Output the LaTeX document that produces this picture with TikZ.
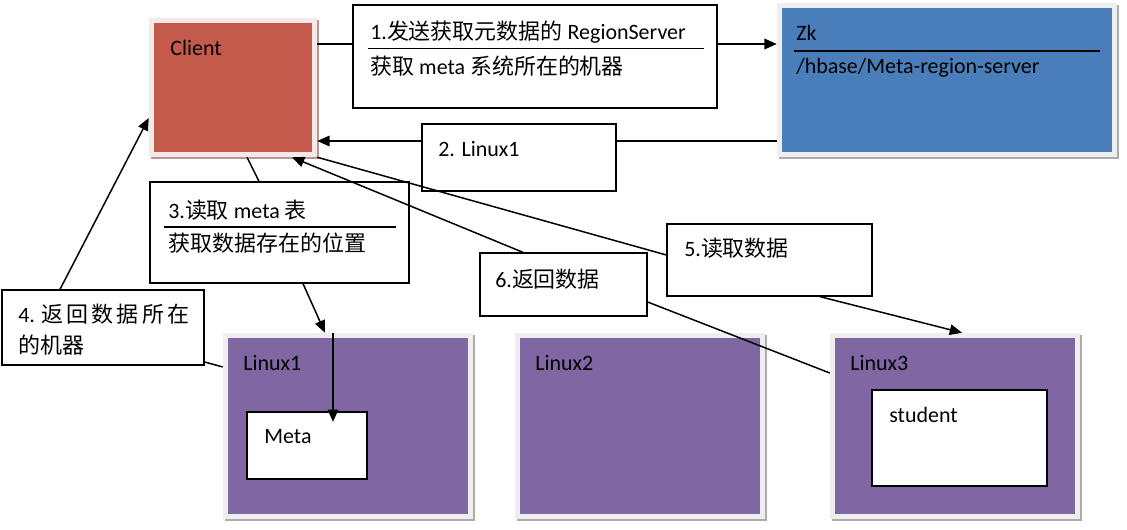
\documentclass[tikz,border=0pt]{standalone}
\usepackage{fontspec}
\setmainfont{Carlito}
\newfontfamily\cjk{Noto Sans CJK SC}
\usetikzlibrary{arrows.meta}

\definecolor{clientred}{RGB}{196,90,75}
\definecolor{zkblue}{RGB}{74,126,187}
\definecolor{hostpurple}{RGB}{128,102,162}
\definecolor{clientframe}{RGB}{242,233,232}
\definecolor{clientshade}{RGB}{186,148,142}
\definecolor{boxframe}{RGB}{238,238,238}
\definecolor{boxshade}{RGB}{172,172,172}

\begin{document}
\begin{tikzpicture}[x=0.02cm, y=-0.02cm, font=\fontsize{12.5}{15}\selectfont]
	% Set styles
	\tikzset{
		shape box/.style n args={3}{fill=#1, outer sep=3pt,
			preaction={draw=#3, line width=6pt, transform canvas={xshift=1.2pt, yshift=-1.2pt}},
			preaction={draw=#2, line width=6pt}},
		note box/.style={draw, fill=white, line width=0.75pt},
		label text/.style={anchor=west, inner sep=0pt},
		line/.style={line width=0.85pt},
		arrow/.style={line width=0.85pt, -{Triangle[length=7pt, width=6pt]}}
	}
	\useasboundingbox (0,0) rectangle (1127,530);

	% Draw the machines
	\node [shape box={clientred}{clientframe}{clientshade}, minimum width=3.16cm, minimum height=2.58cm] (client) at (233,87.5) {};
	\node [shape box={zkblue}{boxframe}{boxshade}, minimum width=6.6cm, minimum height=2.88cm] (zk) at (947,80) {};
	\node [shape box={hostpurple}{boxframe}{boxshade}, minimum width=4.8cm, minimum height=3.52cm] (linux1) at (348,426) {};
	\node [shape box={hostpurple}{boxframe}{boxshade}, minimum width=4.8cm, minimum height=3.52cm] (linux2) at (640,426) {};
	\node [shape box={hostpurple}{boxframe}{boxshade}, minimum width=4.8cm, minimum height=3.52cm] (linux3) at (955,426) {};
	\node [note box, minimum width=2.4cm, minimum height=1.34cm] (meta) at (307,445.5) {};
	\node [note box, minimum width=3.5cm, minimum height=1.92cm] (student) at (959.5,438) {};

	% Steps
	\node [note box, minimum width=7.28cm, minimum height=2.06cm] (step1) at (535,56.5) {};
	\node [note box, minimum width=3.88cm, minimum height=1.34cm] (step2) at (519,157.5) {};
	\node [note box, minimum width=5.18cm, minimum height=2.02cm] (step3) at (279.5,232.5) {};
	\node [note box, minimum width=4.04cm, minimum height=1.5cm] (step4) at (103,327.5) {};
	\node [note box, minimum width=4.1cm, minimum height=1.44cm] (step5) at (769.5,260) {};
	\node [note box, minimum width=3.34cm, minimum height=1.26cm] (step6) at (563.5,284.5) {};

	% Labels
	\node [label text] (client name) at (170,48) {Client};
	\node [label text] (zk name) at (796,33) {Zk};
	\draw [line width=0.75pt] (794,51) -- (1100,51);
	\node [label text] (zk path) at (796,68) {/hbase/Meta-region-server};
	\node [label text] (linux1 name) at (243,363) {Linux1};
	\node [label text] (linux2 name) at (535,363) {Linux2};
	\node [label text] (linux3 name) at (850,363) {Linux3};
	\node [label text] (meta name) at (264,437) {Meta};
	\node [label text] (student name) at (889,415) {student};

	\node [label text] (step1 top) at (370,32) {1.{\cjk 发送获取元数据的} RegionServer};
	\draw [line width=0.75pt] (368,48.5) -- (704,48.5);
	\node [label text] (step1 bottom) at (370,66) {{\cjk 获取} meta {\cjk 系统所在的机器}};
	\node [label text] (step2 text) at (438,149) {2. Linux1};
	\node [label text] (step3 top) at (168,210) {3.{\cjk 读取} meta {\cjk 表}};
	\draw [line width=0.75pt] (164,227) -- (396,227);
	\node [label text] (step3 bottom) at (168,243) {\cjk 获取数据存在的位置};
	\node [label text, align=left, font=\fontsize{12.5}{18}\selectfont] (step4 text) at (18,329.5)
		{\makebox[3.38cm][s]{4. {\cjk 返 回 数 据 所 在}}\\{\cjk 的机器}};
	\node [label text] (step5 text) at (684,248) {5.{\cjk 读取数据}};
	\node [label text] (step6 text) at (495,279) {6.{\cjk 返回数据}};

	% Connectors
	\draw [line] (client.east |- 0,44) -- (step1.west |- 0,44);
	\draw [arrow] (step1.east |- 0,44) -- (zk.west |- 0,44);
	\draw [line] (zk.west |- 0,141) -- (step2.east |- 0,141);
	\draw [arrow] (step2.west |- 0,141) -- (client.east |- 0,141);
	\draw [line] (client.south -| 247,0) -- (step3.north -| 259,0);
	\draw [arrow] (step3.south -| 303,0) -- (linux1.north -| 325,0);
	\draw [arrow, shorten >=-6pt] (linux1.north -| 333,0) -- (meta.north -| 333,0);
	\draw [line] (linux1.west |- 0,367) -- (step4.east |- 0,362);
	\draw [arrow] (step4.north -| 60,0) -- (client.west |- 0,118);
	\draw [line] (client.south east) -- (step5.west |- 0,255);
	\draw [arrow] (step5.south -| 820,0) -- (linux3.north -| 962,0);
	\draw [line] (linux3.west |- 0,373) -- (step6.east |- 0,302);
	\draw [arrow] (step6.north -| 523,0) -- (client.south -| 292,0);
\end{tikzpicture}
\end{document}
